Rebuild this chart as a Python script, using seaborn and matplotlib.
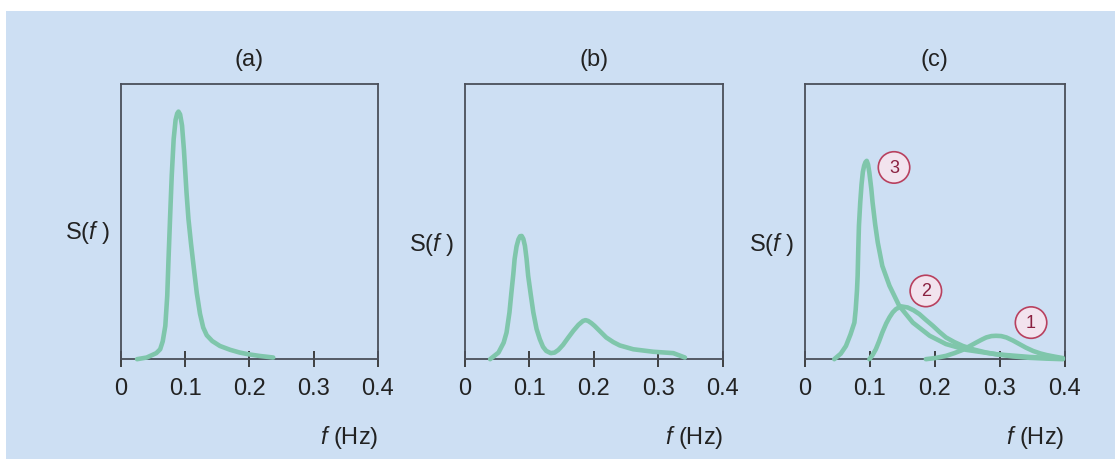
import numpy as np
import pandas as pd
import matplotlib.pyplot as plt
import seaborn as sns

# spectra (S scaled so that the top of each box = 1)
freq_a = [0.025, 0.04, 0.055, 0.061, 0.065, 0.069, 0.072, 0.074, 0.077, 0.079,
          0.082, 0.085, 0.0875, 0.0895, 0.092, 0.095, 0.098, 0.102, 0.105, 0.109,
          0.113, 0.118, 0.123, 0.128, 0.1335, 0.142, 0.154, 0.17, 0.185, 0.198,
          0.215, 0.237]
spec_a = [0.0, 0.006, 0.022, 0.036, 0.065, 0.121, 0.23, 0.364, 0.55, 0.667,
          0.80, 0.87, 0.893, 0.9, 0.89, 0.85, 0.76, 0.606, 0.51, 0.42,
          0.339, 0.24, 0.165, 0.115, 0.087, 0.066, 0.048, 0.034, 0.024, 0.018,
          0.012, 0.006]

freq_b = [0.039, 0.052, 0.06, 0.0645, 0.069, 0.072, 0.075, 0.077, 0.08, 0.083,
          0.0855, 0.088, 0.0905, 0.093, 0.0955, 0.098, 0.102, 0.106, 0.111, 0.116,
          0.121, 0.126, 0.133, 0.139, 0.145, 0.152, 0.16, 0.168, 0.176, 0.183,
          0.187, 0.191, 0.196, 0.201, 0.21, 0.219, 0.23, 0.24, 0.261, 0.292,
          0.323, 0.341]
spec_b = [0.0, 0.024, 0.06, 0.097, 0.17, 0.242, 0.31, 0.364, 0.41, 0.436,
          0.447, 0.448, 0.437, 0.412, 0.365, 0.303, 0.235, 0.170, 0.11, 0.073,
          0.045, 0.030, 0.022, 0.024, 0.034, 0.052, 0.078, 0.103, 0.125, 0.139,
          0.142, 0.139, 0.131, 0.121, 0.1, 0.079, 0.062, 0.05, 0.036, 0.027,
          0.022, 0.006]

freq_c3 = [0.045, 0.055, 0.063, 0.07, 0.076, 0.078, 0.08, 0.081, 0.082, 0.083,
           0.085, 0.087, 0.089, 0.091, 0.093, 0.095, 0.097, 0.099, 0.102, 0.104,
           0.108, 0.112, 0.119, 0.13, 0.145, 0.166, 0.192, 0.217, 0.248, 0.294,
           0.346, 0.397]
spec_c3 = [0.0, 0.02, 0.048, 0.09, 0.133, 0.18, 0.25, 0.303, 0.40, 0.485,
           0.57, 0.635, 0.68, 0.703, 0.716, 0.721, 0.708, 0.679, 0.62, 0.570,
           0.49, 0.424, 0.339, 0.267, 0.194, 0.133, 0.085, 0.055, 0.034, 0.018,
           0.008, 0.002]

freq_c2 = [0.099, 0.104, 0.109, 0.114, 0.119, 0.125, 0.13, 0.135, 0.14, 0.148,
           0.158, 0.167, 0.176, 0.186, 0.197, 0.207, 0.217, 0.23, 0.243, 0.26,
           0.279, 0.3, 0.32, 0.345, 0.372, 0.397]
spec_c2 = [0.0, 0.015, 0.036, 0.065, 0.097, 0.13, 0.152, 0.17, 0.182, 0.192,
           0.188, 0.178, 0.164, 0.143, 0.121, 0.099, 0.079, 0.062, 0.048, 0.035,
           0.024, 0.016, 0.010, 0.005, 0.002, 0.0]

freq_c1 = [0.186, 0.2, 0.217, 0.23, 0.243, 0.254, 0.264, 0.272, 0.279, 0.287,
           0.294, 0.302, 0.31, 0.32, 0.33, 0.34, 0.351, 0.362, 0.372, 0.385, 0.397]
spec_c1 = [0.0, 0.004, 0.012, 0.022, 0.034, 0.048, 0.061, 0.071, 0.079, 0.084,
           0.085, 0.084, 0.079, 0.068, 0.055, 0.042, 0.030, 0.021, 0.015, 0.009, 0.004]

panel_titles = ['(a)', '(b)', '(c)']
tick_vals = [0, 0.1, 0.2, 0.3, 0.4]
tick_labels = ['0', '0.1', '0.2', '0.3', '0.4']
mode_labels = ['3', '2', '1']
mode_label_pos = [(0.137, 0.697), (0.186, 0.248), (0.348, 0.133)]

bg = '#cddff3'
line_col = '#7fc6ab'

sns.set_theme(style='ticks')
plt.rcParams['font.family'] = ['Liberation Sans', 'DejaVu Sans']
plt.rcParams['mathtext.fontset'] = 'custom'
plt.rcParams['mathtext.it'] = 'Liberation Sans:italic'
plt.rcParams['mathtext.rm'] = 'Liberation Sans'

fig = plt.figure(figsize=(11.15, 4.6), dpi=100)
fig.patch.set_facecolor(bg)
# white strips along the top and left edge of the scan
fig.patches.append(plt.Rectangle((0, 0.975), 1, 0.025, transform=fig.transFigure,
                                 facecolor='white', edgecolor='none', zorder=-1))
fig.patches.append(plt.Rectangle((0, 0), 0.005, 1, transform=fig.transFigure,
                                 facecolor='white', edgecolor='none', zorder=-1))

lefts = [0.1085, 0.417, 0.722]
widths = [0.2305, 0.2314, 0.233]
axes = [fig.add_axes([l, 0.217, w, 0.598]) for l, w in zip(lefts, widths)]

curves = [[(freq_a, spec_a)], [(freq_b, spec_b)],
          [(freq_c3, spec_c3), (freq_c2, spec_c2), (freq_c1, spec_c1)]]
slabel_y = [0.465, 0.42, 0.42]

for ax, title, group, sy in zip(axes, panel_titles, curves, slabel_y):
    ax.set_facecolor(bg)
    for fx, sx in group:
        df = pd.DataFrame({'f': fx, 'S': sx})
        sns.lineplot(data=df, x='f', y='S', ax=ax, color=line_col, linewidth=3.3,
                     sort=False, estimator=None, clip_on=False, zorder=3,
                     solid_joinstyle='round', solid_capstyle='round')
    ax.set_xlim(0, 0.4)
    ax.set_ylim(0, 1)
    ax.set_xticks(tick_vals)
    ax.set_xticklabels(tick_labels)
    ax.set_yticks([])
    ax.tick_params(axis='x', direction='inout', length=11, width=1.3,
                   color='#333333', labelsize=17, pad=7, labelcolor='#222222')
    for sp in ax.spines.values():
        sp.set_visible(True)
        sp.set_color('#4a4f5a')
        sp.set_linewidth(1.3)
    ax.set_xlabel('')
    ax.set_ylabel('')
    ax.set_title(title, fontsize=17, pad=14, color='#222222')
    ax.text(1.0, -0.28, '$f$ (Hz)', transform=ax.transAxes, ha='right', va='center',
            fontsize=17, color='#222222')
    ax.text(-0.04, sy, 'S($f$ )', transform=ax.transAxes, ha='right', va='center',
            fontsize=17, color='#222222')

for lab, (lx, ly) in zip(mode_labels, mode_label_pos):
    axes[2].text(lx, ly, lab, ha='center', va='center', fontsize=13, color='#8a2040',
                 bbox=dict(boxstyle='circle,pad=0.4', facecolor='#f2e3ee',
                           edgecolor='#b8405e', linewidth=1.2), zorder=5)

fig.savefig('out.png', dpi=100, facecolor=fig.get_facecolor())
